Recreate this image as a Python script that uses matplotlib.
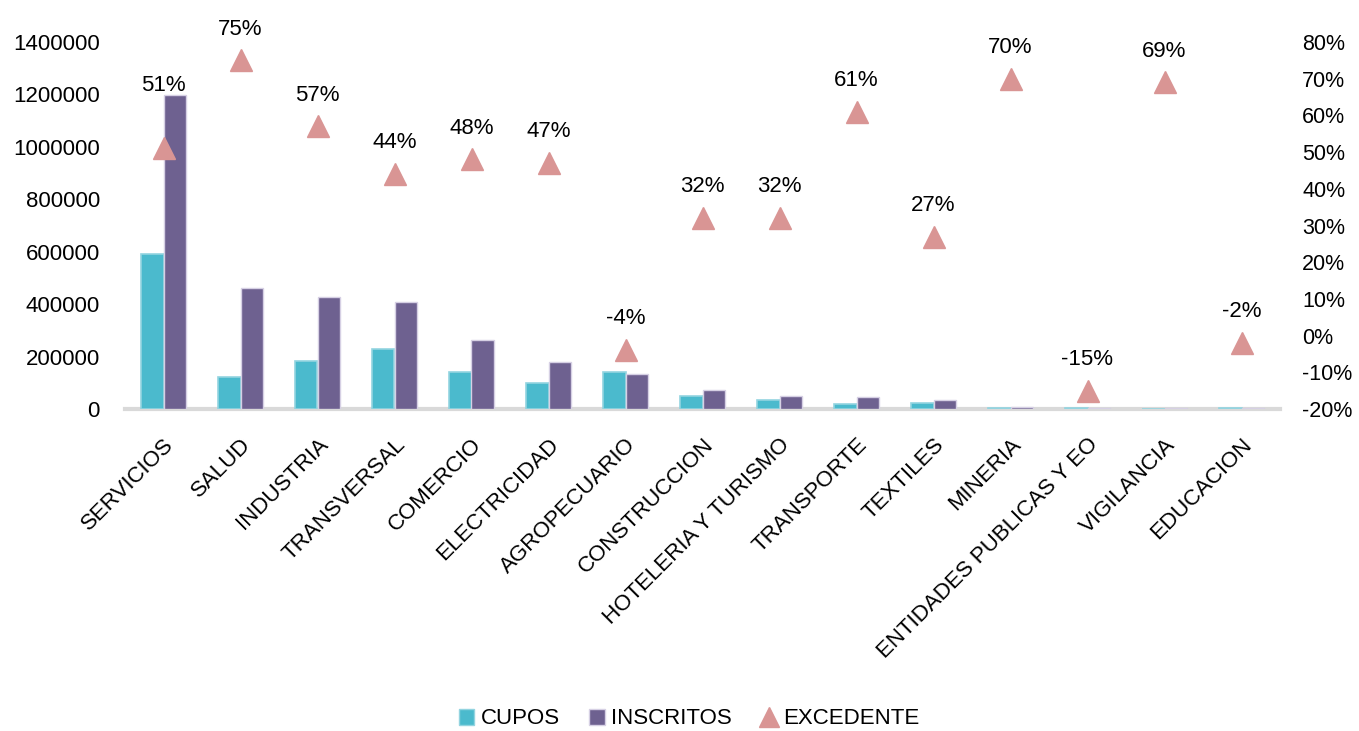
import matplotlib
matplotlib.use("Agg")
import matplotlib.pyplot as plt
import numpy as np
from matplotlib.ticker import FuncFormatter, PercentFormatter
from matplotlib.lines import Line2D
from matplotlib.patches import Patch

plt.rcParams['font.family'] = ['Liberation Sans', 'DejaVu Sans']
plt.rcParams['axes.unicode_minus'] = False
FS = 16

categories = ["SERVICIOS", "SALUD", "INDUSTRIA", "TRANSVERSAL", "COMERCIO", "ELECTRICIDAD",
              "AGROPECUARIO", "CONSTRUCCION", "HOTELERIA Y TURISMO", "TRANSPORTE", "TEXTILES",
              "MINERIA", "ENTIDADES PUBLICAS Y EO", "VIGILANCIA", "EDUCACION"]
cupos = [591000, 122000, 183000, 229000, 141000, 99000, 140000, 49000, 34000, 17500, 24500,
         2000, 2600, 800, 2000]
inscritos = [1198000, 462000, 427000, 408000, 263000, 179000, 134000, 72000, 50000, 44000, 33500,
             6800, 2250, 2600, 1960]
excedente = [0.51, 0.75, 0.57, 0.44, 0.48, 0.47, -0.04, 0.32, 0.32, 0.61, 0.27,
             0.70, -0.15, 0.69, -0.02]
excedente_labels = ["51%", "75%", "57%", "44%", "48%", "47%", "-4%", "32%", "32%", "61%", "27%",
                    "70%", "-15%", "69%", "-2%"]

c_cupos = "#4BBACD"
c_ins = "#6E6190"
c_exc = "#D99594"

fig = plt.figure(figsize=(13.59, 7.31), dpi=100)
ax = fig.add_axes([125/1359, 1-409/731, 1155/1359, 367/731])
x = np.arange(len(categories))
w = 0.29
ax.bar(x - w/2, cupos, w, color=c_cupos, edgecolor="#93D4E0", linewidth=1.2, zorder=3)
ax.bar(x + w/2, inscritos, w, color=c_ins, edgecolor="#D6D0E4", linewidth=1.0, zorder=3)
ax.set_xlim(-0.5, len(categories) - 0.5)
ax.set_ylim(0, 1400000)
ax.set_yticks(np.arange(0, 1400001, 200000))
ax.yaxis.set_major_formatter(FuncFormatter(lambda v, p: f"{int(v)}"))
for s in ["top", "right", "left"]:
    ax.spines[s].set_visible(False)
ax.spines["bottom"].set_color("#D9D9D9")
ax.spines["bottom"].set_linewidth(3)
ax.spines["bottom"].set_zorder(1)
ax.tick_params(axis="y", length=0, labelsize=FS, pad=18)
ax.tick_params(axis="x", length=0, labelsize=FS, pad=18)
ax.set_xticks(x)
ax.set_xticklabels(categories, rotation=45, ha="right", rotation_mode="anchor")

ax2 = ax.twinx()
ax2.set_ylim(-0.2, 0.8)
ax2.set_yticks(np.arange(-0.2, 0.81, 0.1))
ax2.yaxis.set_major_formatter(PercentFormatter(1.0, decimals=0))
for s in ["top", "right", "left", "bottom"]:
    ax2.spines[s].set_visible(False)
ax2.tick_params(axis="y", length=0, labelsize=15.5, pad=16)
ax2.plot(x, excedente, linestyle="none", marker="^", markersize=16, color=c_exc, zorder=3)
for i, (xi, v, lab) in enumerate(zip(x, excedente, excedente_labels)):
    dy = 38 if i == 0 else 15
    ax2.annotate(lab, (xi, v), xytext=(0, dy), textcoords="offset points",
                 ha="center", va="bottom", fontsize=FS)

handles = [Patch(facecolor=c_cupos, edgecolor="#93D4E0", label="CUPOS"),
           Patch(facecolor=c_ins, edgecolor="#D6D0E4", label="INSCRITOS"),
           Line2D([], [], linestyle="none", marker="^", markersize=14, color=c_exc, label="EXCEDENTE")]
fig.legend(handles=handles, loc="center", bbox_to_anchor=(689/1359, 1-719/731), ncol=3,
           frameon=False, fontsize=FS, handlelength=0.7, handleheight=0.7,
           handletextpad=0.3, columnspacing=1.3)

fig.savefig("out.png", dpi=100)
